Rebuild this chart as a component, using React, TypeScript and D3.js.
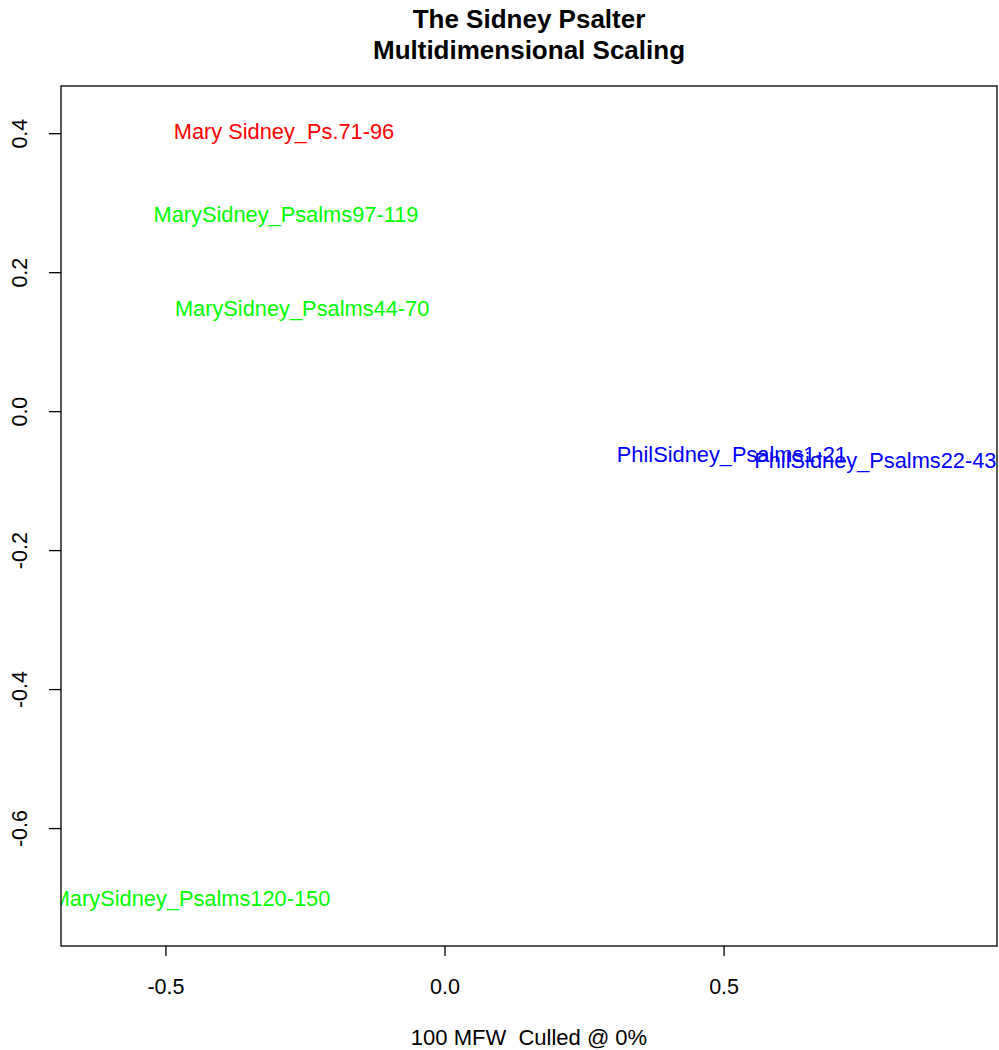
import React from 'react';
import * as d3 from 'd3';

// MDS coordinates
const labels = [
  'Mary Sidney_Ps.71-96',
  'MarySidney_Psalms97-119',
  'MarySidney_Psalms44-70',
  'PhilSidney_Psalms1-21',
  'PhilSidney_Psalms22-43',
  'MarySidney_Psalms120-150',
];
const dim1 = [-0.2885, -0.285, -0.256, 0.514, 0.771, -0.455];
const dim2 = [0.4025, 0.283, 0.148, -0.061, -0.07, -0.701];
const colors = ['#ff0000', '#00ff00', '#00ff00', '#0000ff', '#0000ff', '#00ff00'];

const xTicks = [-0.5, 0.0, 0.5];
const yTicks = [-0.6, -0.4, -0.2, 0.0, 0.2, 0.4];

const width = 999;
const height = 1050;
const left = 61;
const right = 997;
const top = 86;
const bottom = 946;
const font = 'Liberation Sans, Arial, sans-serif';

const App = () => {
  const x = d3.scaleLinear().domain([-0.688, 0.989]).range([left, right]);
  const y = d3.scaleLinear().domain([0.4686, -0.769]).range([top, bottom]);
  const cx = (left + right) / 2;

  return (
    <svg width={width} height={height} style={{ position: 'absolute', left: 0, top: 0 }} fontFamily={font}>
      <rect width={width} height={height} fill="#fff" />
      <defs>
        <clipPath id="plotClip">
          <rect x={left} y={top} width={right - left} height={bottom - top} />
        </clipPath>
      </defs>

      {/* title */}
      <text x={cx} y={19} textAnchor="middle" dominantBaseline="central" fontWeight="bold" fontSize={26}>
        The Sidney Psalter
      </text>
      <text x={cx} y={50} textAnchor="middle" dominantBaseline="central" fontWeight="bold" fontSize={26}>
        Multidimensional Scaling
      </text>

      {/* labels */}
      <g clipPath="url(#plotClip)">
        {labels.map((l, i) => (
          <text key={l} x={x(dim1[i])} y={y(dim2[i])} fill={colors[i]} textAnchor="middle"
            dominantBaseline="central" fontSize={21.8}>
            {l}
          </text>
        ))}
      </g>

      <rect x={left} y={top} width={right - left} height={bottom - top} fill="none" stroke="#000" strokeWidth={1.3} />

      {/* x axis */}
      <g>
        {xTicks.map(t => (
          <g key={t} transform={`translate(${x(t)},${bottom})`}>
            <line y2={10} stroke="#000" strokeWidth={1.3} />
            <text y={41} textAnchor="middle" dominantBaseline="central" fontSize={21.5}>{t.toFixed(1)}</text>
          </g>
        ))}
      </g>

      {/* y axis */}
      <g>
        {yTicks.map(t => (
          <g key={t} transform={`translate(${left},${y(t)})`}>
            <line x2={-12} stroke="#000" strokeWidth={1.3} />
            <text transform="translate(-41,0) rotate(-90)" textAnchor="middle" dominantBaseline="central" fontSize={21.5}>
              {t.toFixed(1)}
            </text>
          </g>
        ))}
      </g>

      <text x={cx} y={1037} textAnchor="middle" dominantBaseline="central" fontSize={22} style={{ whiteSpace: 'pre' }}>
        {'100 MFW  Culled @ 0%'}
      </text>
    </svg>
  );
};

export default App;
